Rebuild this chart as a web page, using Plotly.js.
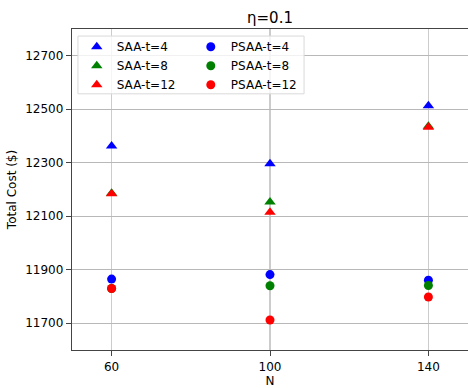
<!DOCTYPE html>
<html>
<head>
<meta charset="utf-8">
<script src="https://cdn.plot.ly/plotly-3.0.1.min.js"></script>
<style>html,body{margin:0;padding:0;background:#fff;}#chart{width:468px;height:388px;}</style>
</head>
<body>
<div id="chart"></div>
<script>
var N = [60, 100, 140];
var saa_t4  = [12363, 12296, 12513];
var saa_t8  = [12186, 12153, 12436];
var saa_t12 = [12184, 12115, 12433];
var psaa_t4  = [11865, 11882, 11861];
var psaa_t8  = [11830, 11840, 11841];
var psaa_t12 = [11830, 11712, 11798];
var xTicks = [60, 100, 140];
var yTicks = [11700, 11900, 12100, 12300, 12500, 12700];

function tr(name, y, color, symbol, legend) {
  return {
    type: 'scatter', mode: 'markers', x: N, y: y, name: name,
    marker: {color: color, symbol: symbol, size: symbol === 'circle' ? 9 : 10, line: {width: 0}},
    legend: legend
  };
}
var data = [
  tr('SAA-t=4', saa_t4, 'blue', 'triangle-up', 'legend'),
  tr('SAA-t=8', saa_t8, 'green', 'triangle-up', 'legend'),
  tr('SAA-t=12', saa_t12, 'red', 'triangle-up', 'legend'),
  tr('PSAA-t=4', psaa_t4, 'blue', 'circle', 'legend2'),
  tr('PSAA-t=8', psaa_t8, 'green', 'circle', 'legend2'),
  tr('PSAA-t=12', psaa_t12, 'red', 'circle', 'legend2')
];
var font = {family: 'DejaVu Sans', size: 12, color: '#000'};
var legCommon = {
  bgcolor: 'rgba(0,0,0,0)', borderwidth: 0, font: font,
  xanchor: 'left', yanchor: 'top', tracegroupgap: 0, itemwidth: 30
};
var layout = {
  width: 468, height: 388,
  margin: {l: 72, r: 0, t: 29, b: 38},
  paper_bgcolor: '#fff', plot_bgcolor: '#fff',
  font: font,
  showlegend: true,
  title: {text: 'η=0.1', font: {family: 'DejaVu Sans', size: 15, color: '#000'}, x: 0.5, xanchor: 'center', y: 0.955, yanchor: 'middle', xref: 'paper'},
  xaxis: {
    range: [50, 150], tickvals: xTicks, ticktext: xTicks.map(String),
    showgrid: true, gridcolor: '#cccccc', gridwidth: 1.5,
    showline: true, linecolor: '#444', linewidth: 1.2, mirror: true,
    ticks: 'outside', ticklen: 5, tickcolor: '#444', zeroline: false,
    title: {text: 'N', font: font, standoff: 6}
  },
  yaxis: {
    range: [11600, 12800], tickvals: yTicks, ticktext: yTicks.map(String),
    showgrid: true, gridcolor: '#b8b8b8', gridwidth: 1,
    showline: true, linecolor: '#444', linewidth: 1.2, mirror: false,
    ticks: 'outside', ticklen: 5, tickcolor: '#444', zeroline: false,
    title: {text: 'Total Cost ($)', font: font, standoff: 6}
  },
  legend: Object.assign({}, legCommon, {x: 0.012, y: 0.99}),
  legend2: Object.assign({}, legCommon, {x: 0.30, y: 0.99}),
  shapes: [{
    type: 'rect', xref: 'paper', yref: 'paper', x0: 0.015, x1: 0.586, y0: 0.798, y1: 0.978,
    fillcolor: 'rgba(255,255,255,0.8)', line: {color: '#d9d9d9', width: 1}, layer: 'above'
  }]
};
Plotly.newPlot('chart', data, layout, {displayModeBar: false, staticPlot: true});
</script>
</body>
</html>
